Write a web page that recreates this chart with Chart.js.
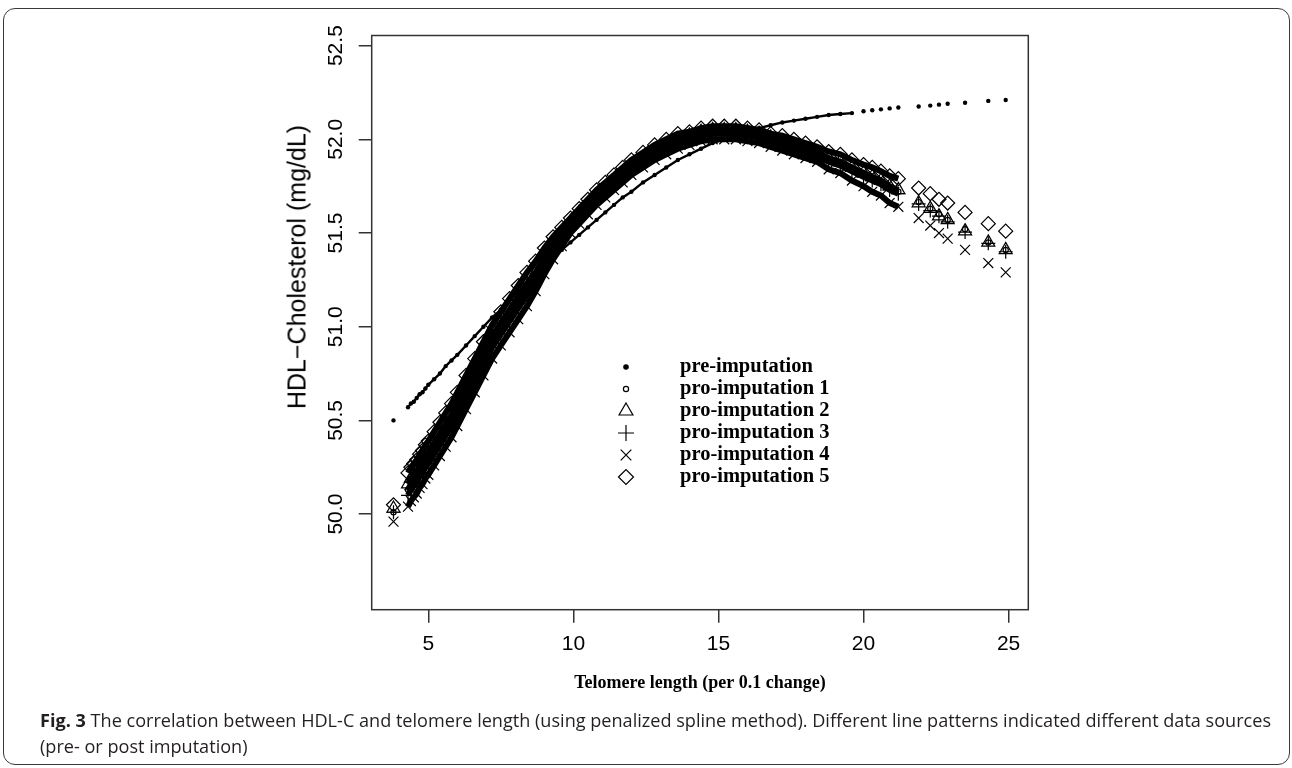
<!DOCTYPE html>
<html>
<head>
<meta charset="utf-8">
<script src="https://cdn.jsdelivr.net/npm/chart.js@4.4.1/dist/chart.umd.min.js"></script>
<style>
  html, body { margin: 0; padding: 0; background: #fff; width: 1292px; height: 768px; overflow: hidden; }
  #frame { position: absolute; left: 3px; top: 8px; width: 1287px; height: 757px; border: 1.5px solid #3a3a3a; border-radius: 12px; box-sizing: border-box; }
  #chartBox { position: absolute; left: 0; top: 0; width: 1292px; height: 768px; }
  #ytitle { position: absolute; left: 297px; top: 267px; transform: translate(-50%, -50%) rotate(-90deg); font: 25px "Liberation Sans", Arial, sans-serif; color: #000; white-space: nowrap; }
  #caption { position: absolute; left: 40px; top: 707px; font: 18.1px "Open Sans", sans-serif; line-height: 26px; color: #231f20; white-space: nowrap; }
  #caption b { font-weight: 700; }
</style>
</head>
<body>
<div id="frame"></div>
<div id="chartBox"><canvas id="c" width="1292" height="768"></canvas></div>
<div id="ytitle">HDL&#8722;Cholesterol (mg/dL)</div>
<div id="caption"><b>Fig. 3</b> The correlation between HDL-C and telomere length (using penalized spline method). Different line patterns indicated different data sources<br>(pre- or post imputation)</div>
<script>
// ---------------- data ----------------
const telomere = [3.8, 4.3, 4.4, 4.5, 4.6, 4.7, 4.8, 4.9, 5.0, 5.2, 5.4, 5.6, 5.8, 6.0, 6.3, 6.6, 6.9, 7.2, 7.5, 7.8,
  8.1, 8.4, 8.7, 9.0, 9.3, 9.6, 9.9, 10.2, 10.5, 10.8, 11.1, 11.4, 11.7, 12.0, 12.4, 12.8, 13.2, 13.6, 14.0, 14.4,
  14.8, 15.2, 15.6, 16.0, 16.4, 16.8, 17.2, 17.6, 18.0, 18.4, 18.8, 19.2, 19.6, 20.0, 20.3, 20.6, 20.9, 21.2, 21.9, 22.3,
  22.6, 22.9, 23.5, 24.3, 24.9];

const preImputation = [50.50, 50.57, 50.59, 50.60, 50.62, 50.64, 50.65, 50.67, 50.69, 50.72, 50.75, 50.79, 50.82, 50.85, 50.90, 50.95, 51.00, 51.05, 51.09, 51.14,
  51.19, 51.23, 51.28, 51.32, 51.36, 51.41, 51.45, 51.49, 51.53, 51.57, 51.61, 51.65, 51.69, 51.72, 51.77, 51.81, 51.85, 51.89, 51.92, 51.95,
  51.98, 52.00, 52.02, 52.04, 52.06, 52.075, 52.09, 52.10, 52.11, 52.12, 52.13, 52.135, 52.14, 52.15, 52.155, 52.16, 52.165, 52.17, 52.175, 52.18,
  52.185, 52.19, 52.195, 52.205, 52.21];

const proImputation1 = [50.01, 50.13, 50.16, 50.18, 50.20, 50.23, 50.25, 50.28, 50.30, 50.35, 50.40, 50.45, 50.50, 50.56, 50.65, 50.74, 50.83, 50.92, 50.99, 51.06,
  51.13, 51.20, 51.27, 51.35, 51.42, 51.48, 51.54, 51.59, 51.64, 51.69, 51.73, 51.77, 51.81, 51.85, 51.89, 51.93, 51.96, 51.99, 52.01, 52.03,
  52.04, 52.04, 52.04, 52.03, 52.02, 52.00, 51.98, 51.96, 51.94, 51.92, 51.89, 51.87, 51.84, 51.81, 51.79, 51.77, 51.74, 51.72, 51.665, 51.63,
  51.60, 51.57, 51.52, 51.45, 51.41];

const proImputation2 = [50.03, 50.16, 50.19, 50.21, 50.23, 50.26, 50.28, 50.31, 50.33, 50.38, 50.43, 50.48, 50.53, 50.59, 50.68, 50.77, 50.86, 50.95, 51.02, 51.09,
  51.16, 51.23, 51.29, 51.37, 51.44, 51.50, 51.56, 51.61, 51.65, 51.70, 51.74, 51.78, 51.82, 51.86, 51.90, 51.94, 51.97, 52.00, 52.02, 52.04,
  52.05, 52.05, 52.05, 52.04, 52.03, 52.01, 51.99, 51.97, 51.95, 51.93, 51.90, 51.88, 51.85, 51.82, 51.80, 51.78, 51.75, 51.73, 51.66, 51.63,
  51.59, 51.57, 51.51, 51.45, 51.41];

const proImputation3 = [50.01, 50.10, 50.13, 50.15, 50.17, 50.20, 50.22, 50.25, 50.27, 50.32, 50.37, 50.42, 50.47, 50.53, 50.62, 50.71, 50.80, 50.89, 50.96, 51.03,
  51.10, 51.17, 51.25, 51.33, 51.40, 51.46, 51.52, 51.57, 51.63, 51.68, 51.72, 51.76, 51.80, 51.84, 51.88, 51.92, 51.95, 51.98, 52.00, 52.02,
  52.03, 52.03, 52.03, 52.02, 52.01, 51.99, 51.97, 51.95, 51.93, 51.91, 51.88, 51.86, 51.83, 51.80, 51.78, 51.76, 51.73, 51.71, 51.655, 51.62,
  51.59, 51.56, 51.505, 51.445, 51.40];

const proImputation4 = [49.96, 50.04, 50.07, 50.09, 50.11, 50.14, 50.16, 50.19, 50.21, 50.26, 50.31, 50.36, 50.41, 50.47, 50.56, 50.65, 50.74, 50.83, 50.90, 50.97,
  51.04, 51.11, 51.19, 51.28, 51.36, 51.43, 51.50, 51.55, 51.60, 51.65, 51.69, 51.73, 51.77, 51.81, 51.85, 51.89, 51.92, 51.95, 51.97, 51.99,
  52.00, 52.00, 52.00, 51.99, 51.98, 51.96, 51.94, 51.92, 51.90, 51.88, 51.84, 51.82, 51.78, 51.75, 51.72, 51.70, 51.66, 51.64, 51.58, 51.54,
  51.50, 51.47, 51.41, 51.34, 51.29];

const proImputation5 = [50.05, 50.22, 50.25, 50.27, 50.29, 50.32, 50.34, 50.37, 50.39, 50.44, 50.49, 50.54, 50.59, 50.65, 50.74, 50.83, 50.92, 51.01, 51.08, 51.15,
  51.22, 51.29, 51.35, 51.42, 51.48, 51.53, 51.58, 51.63, 51.68, 51.73, 51.77, 51.81, 51.85, 51.89, 51.93, 51.97, 52.00, 52.03, 52.04, 52.06,
  52.07, 52.07, 52.07, 52.06, 52.05, 52.03, 52.02, 52.00, 51.98, 51.96, 51.935, 51.92, 51.89, 51.865, 51.85, 51.83, 51.805, 51.79, 51.74, 51.71,
  51.68, 51.66, 51.61, 51.55, 51.51];

const seriesLabels = ['pre-imputation', 'pro-imputation 1', 'pro-imputation 2', 'pro-imputation 3', 'pro-imputation 4', 'pro-imputation 5'];
const xTicks = [5, 10, 15, 20, 25];
const xTickLabels = ['5', '10', '15', '20', '25'];
const yTicks = [50.0, 50.5, 51.0, 51.5, 52.0, 52.5];
const yTickLabels = ['50.0', '50.5', '51.0', '51.5', '52.0', '52.5'];
const xTitle = 'Telomere length (per 0.1 change)';

// ---------------- chart ----------------
const seriesValues = [preImputation, proImputation1, proImputation2, proImputation3, proImputation4, proImputation5];
const markerStyles = [
  { pointStyle: 'circle',   radius: 2.2, legendRadius: 2.2, filled: true },
  { pointStyle: 'circle',   radius: 2.6, legendRadius: 2.6, filled: false },
  { pointStyle: 'triangle', radius: 7.5, legendRadius: 8,   filled: false },
  { pointStyle: 'cross',    radius: 7,   legendRadius: 8,   filled: false },
  { pointStyle: 'crossRot', radius: 7,   legendRadius: 7.5, filled: false },
  { pointStyle: 'rectRot',  radius: 7,   legendRadius: 7.5, filled: false }
];

const datasets = seriesValues.map((vals, k) => {
  const st = markerStyles[k];
  const isPre = k === 0;
  return {
    label: seriesLabels[k],
    data: telomere.map((x, i) => ({ x: x, y: vals[i] })),
    showLine: true,
    borderColor: '#000',
    borderWidth: isPre ? 2.4 : 6,
    pointStyle: st.pointStyle,
    pointRadius: st.radius,
    pointBorderWidth: isPre ? 0 : 1.2,
    pointBorderColor: '#000',
    pointBackgroundColor: st.filled ? '#000' : 'rgba(0,0,0,0)',
    segment: {
      borderColor: ctx => {
        const limit = isPre ? 19.4 : 21.2;
        const gap = ctx.p1.parsed.x - ctx.p0.parsed.x;
        return (ctx.p0.parsed.x >= limit || gap > 0.45) ? 'rgba(0,0,0,0)' : '#000';
      }
    },
    tension: 0
  };
});

function drawMarker(ctx, style, r, filled, x, y) {
  ctx.beginPath();
  if (style === 'circle') {
    ctx.arc(x, y, r, 0, Math.PI * 2);
  } else if (style === 'triangle') {
    ctx.moveTo(x, y - r);
    ctx.lineTo(x + r * Math.sin(2 * Math.PI / 3), y - r * Math.cos(2 * Math.PI / 3));
    ctx.lineTo(x + r * Math.sin(4 * Math.PI / 3), y - r * Math.cos(4 * Math.PI / 3));
    ctx.closePath();
  } else if (style === 'cross') {
    ctx.moveTo(x, y - r); ctx.lineTo(x, y + r);
    ctx.moveTo(x - r, y); ctx.lineTo(x + r, y);
  } else if (style === 'crossRot') {
    const d = r * Math.SQRT1_2;
    ctx.moveTo(x - d, y - d); ctx.lineTo(x + d, y + d);
    ctx.moveTo(x - d, y + d); ctx.lineTo(x + d, y - d);
  } else if (style === 'rectRot') {
    ctx.moveTo(x - r, y); ctx.lineTo(x, y - r); ctx.lineTo(x + r, y); ctx.lineTo(x, y + r);
    ctx.closePath();
  }
  if (filled) { ctx.fillStyle = '#000'; ctx.fill(); }
  ctx.stroke();
}

const boxAndLegend = {
  id: 'boxAndLegend',
  afterDraw(chart) {
    const ctx = chart.ctx;
    const a = chart.chartArea;
    ctx.save();
    ctx.strokeStyle = '#333';
    ctx.lineWidth = 1.5;
    ctx.strokeRect(a.left, a.top, a.right - a.left, a.bottom - a.top);
    // legend
    const markX = 626, textX = 680, top0 = 367, step = 22;
    ctx.font = 'bold 20.5px "Liberation Serif", "Times New Roman", serif';
    ctx.textBaseline = 'middle';
    ctx.textAlign = 'left';
    chart.data.datasets.forEach((ds, k) => {
      const y = top0 + k * step;
      const st = markerStyles[k];
      ctx.strokeStyle = '#000';
      ctx.lineWidth = 1.2;
      drawMarker(ctx, st.pointStyle, st.legendRadius, st.filled, markX, y);
      ctx.fillStyle = '#000';
      ctx.fillText(ds.label, textX, y);
    });
    ctx.restore();
  }
};

new Chart(document.getElementById('c'), {
  type: 'scatter',
  data: { datasets: datasets },
  options: {
    responsive: false,
    animation: false,
    devicePixelRatio: 1,
    layout: { padding: { left: 311.7, right: 263.7, top: 35.5, bottom: 74.3 } },
    plugins: { legend: { display: false }, tooltip: { enabled: false } },
    scales: {
      x: {
        type: 'linear',
        min: 3.049, max: 25.679,
        afterBuildTicks: s => { s.ticks = xTicks.map(v => ({ value: v })); },
        afterFit: s => { s.height = 84; },
        border: { display: false },
        grid: { drawOnChartArea: false, drawTicks: true, tickLength: 13, color: '#333', lineWidth: 1.5 },
        ticks: {
          autoSkip: false, maxRotation: 0, minRotation: 0, padding: 9, color: '#000',
          font: { family: '"Liberation Sans", Arial, sans-serif', size: 21 },
          callback: (v, i) => xTickLabels[i]
        },
        title: {
          display: true, text: xTitle, color: '#000', padding: { top: 0, bottom: 0 },
          font: { family: '"Liberation Serif", "Times New Roman", serif', size: 18, weight: 'bold' }
        }
      },
      y: {
        type: 'linear',
        min: 49.490, max: 52.554,
        afterBuildTicks: s => { s.ticks = yTicks.map(v => ({ value: v })); },
        afterFit: s => { s.width = 60; },
        border: { display: false },
        grid: { drawOnChartArea: false, drawTicks: true, tickLength: 13, color: '#333', lineWidth: 1.5 },
        ticks: {
          autoSkip: false, minRotation: 90, maxRotation: 90, crossAlign: 'center', padding: 2, color: '#000',
          font: { family: '"Liberation Sans", Arial, sans-serif', size: 21 },
          callback: (v, i) => yTickLabels[i]
        }
      }
    }
  },
  plugins: [boxAndLegend]
});
</script>
</body>
</html>
